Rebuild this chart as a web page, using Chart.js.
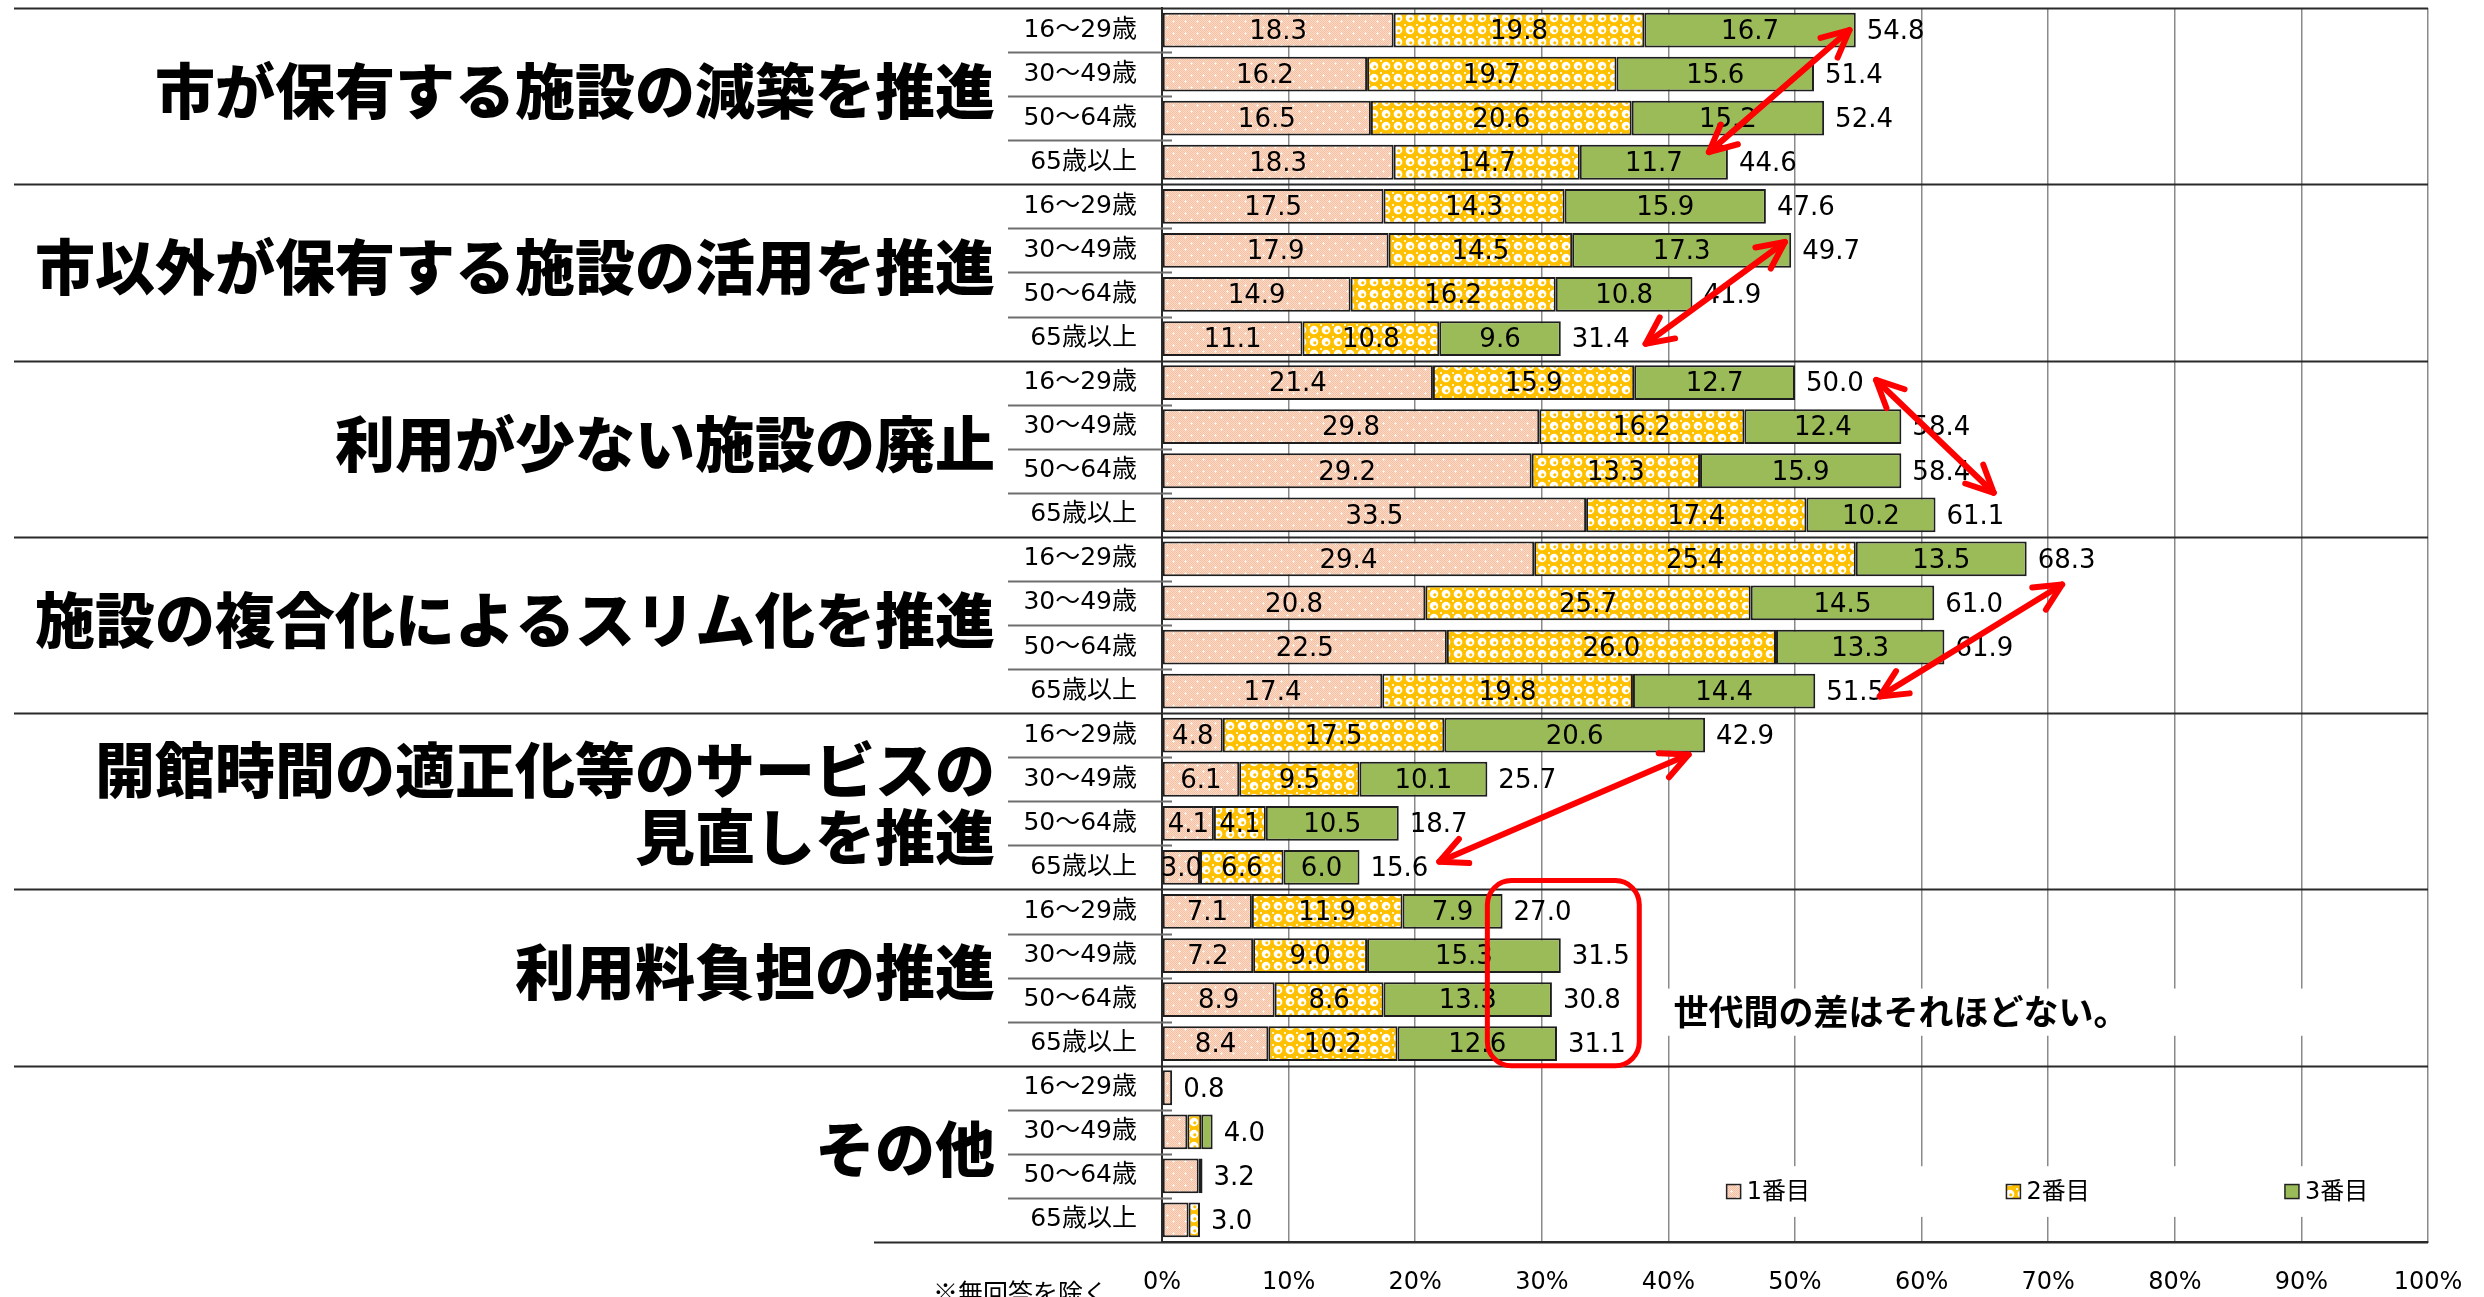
<!DOCTYPE html>
<html lang="ja">
<head>
<meta charset="utf-8">
<title>施設の見直し 年代別</title>
<script src="https://cdn.jsdelivr.net/npm/chart.js@4.4.1/dist/chart.umd.min.js"></script>
<style>
  html, body { margin: 0; padding: 0; background: #fff; }
  #wrap { width: 2484px; height: 1297px; position: relative; }
</style>
</head>
<body>
<div id="wrap"><canvas id="chart"></canvas></div>
<script>
const groupNames = [
  ["市が保有する施設の減築を推進"],
  ["市以外が保有する施設の活用を推進"],
  ["利用が少ない施設の廃止"],
  ["施設の複合化によるスリム化を推進"],
  ["開館時間の適正化等のサービスの", "見直しを推進"],
  ["利用料負担の推進"],
  ["その他"]
];
const ages = ["16～29歳", "30～49歳", "50～64歳", "65歳以上"];
const seriesNames = ["1番目", "2番目", "3番目"];

// 4 rows per group, in the order of ages
const first  = [18.3, 16.2, 16.5, 18.3,  17.5, 17.9, 14.9, 11.1,  21.4, 29.8, 29.2, 33.5,
                29.4, 20.8, 22.5, 17.4,   4.8,  6.1,  4.1,  3.0,   7.1,  7.2,  8.9,  8.4,
                 0.8,  2.0,  2.9,  2.1];
const second = [19.8, 19.7, 20.6, 14.7,  14.3, 14.5, 16.2, 10.8,  15.9, 16.2, 13.3, 17.4,
                25.4, 25.7, 26.0, 19.8,  17.5,  9.5,  4.1,  6.6,  11.9,  9.0,  8.6, 10.2,
                 0,    1.1,  0,    0.9];
const third  = [16.7, 15.6, 15.2, 11.7,  15.9, 17.3, 10.8,  9.6,  12.7, 12.4, 15.9, 10.2,
                13.5, 14.5, 13.3, 14.4,  20.6, 10.1, 10.5,  6.0,   7.9, 15.3, 13.3, 12.6,
                 0,    0.9,  0.3,  0];
const totals = [54.8, 51.4, 52.4, 44.6,  47.6, 49.7, 41.9, 31.4,  50.0, 58.4, 58.4, 61.1,
                68.3, 61.0, 61.9, 51.5,  42.9, 25.7, 18.7, 15.6,  27.0, 31.5, 30.8, 31.1,
                 0.8,  4.0,  3.2,  3.0];
const xTicks = [0, 10, 20, 30, 40, 50, 60, 70, 80, 90, 100];

// red arrows drawn over the bars: [x1 %, row1, x2 %, row2]
const arrowMarks = [
  [54.3, 0.0, 43.2, 2.77],
  [49.2, 4.81, 38.2, 7.12],
  [56.4, 7.94, 65.7, 10.5],
  [71.1, 12.58, 56.7, 15.12],
  [41.6, 16.44, 21.9, 18.87]
];
const noteText = "世代間の差はそれほどない。";

const labels = groupNames.flatMap(() => ages);
const FONT = '"DejaVu Sans", "Noto Sans CJK JP", sans-serif';

function makePattern(kind) {
  const c = document.createElement('canvas');
  c.width = 12; c.height = 12;
  const g = c.getContext('2d');
  if (kind === 0) {
    for (let y = 0; y < 12; y++) {
      for (let x = 0; x < 12; x++) {
        g.fillStyle = (x + y) % 2 ? '#fbdac8' : '#f6c1a3';
        g.fillRect(x, y, 1, 1);
      }
    }
    g.fillStyle = '#fff6f0';
    [[3, 3], [9, 9]].forEach(([px, py]) => {
      g.fillRect(px - 1, py, 3, 1);
      g.fillRect(px, py - 1, 1, 3);
    });
  } else {
    g.fillStyle = '#ffc000';
    g.fillRect(0, 0, 12, 12);
    g.fillStyle = '#ffffff';
    g.beginPath(); g.arc(6, 6, 4.3, 0, Math.PI * 2); g.fill();
    g.fillStyle = '#ffc000';
    g.beginPath(); g.arc(6.8, 6.8, 1.6, 0, Math.PI * 2); g.fill();
    g.fillStyle = '#fff3cc';
    g.fillRect(0, 0, 2, 2);
  }
  const ctx = document.createElement('canvas').getContext('2d');
  return ctx.createPattern(c, 'repeat');
}

const fills = [makePattern(0), makePattern(1), '#9bbb59'];

const framePlugin = {
  id: 'frame',
  beforeDatasetsDraw(chart) {
    const {ctx, chartArea} = chart;
    const y = chart.scales.y;
    ctx.save();
    for (let i = 0; i <= labels.length; i++) {
      const py = Math.round(y.getPixelForValue(i - 0.5)) + 0.5;
      ctx.beginPath();
      if (i % 4 === 0) {
        ctx.strokeStyle = '#2a2a2a';
        ctx.lineWidth = 2;
        ctx.moveTo(i === labels.length ? 874 : 14, py);
        ctx.lineTo(chartArea.right, py);
      } else {
        ctx.strokeStyle = '#6e6e6e';
        ctx.lineWidth = 2;
        ctx.moveTo(1008, py);
        ctx.lineTo(chartArea.left + 10, py);
      }
      ctx.stroke();
    }
    // group titles
    ctx.fillStyle = '#000';
    ctx.textAlign = 'right';
    ctx.textBaseline = 'middle';
    ctx.font = '900 60px "Noto Sans CJK JP", sans-serif';
    groupNames.forEach((lines, gi) => {
      const cy = (y.getPixelForValue(gi * 4) + y.getPixelForValue(gi * 4 + 3)) / 2;
      if (lines.length === 1) {
        ctx.fillText(lines[0], 995, cy - 5);
      } else {
        ctx.fillText(lines[0], 995, cy - 31);
        ctx.fillText(lines[1], 995, cy + 36);
      }
    });
    ctx.font = '25px "Noto Sans CJK JP", sans-serif';
    ctx.textAlign = 'left';
    ctx.textBaseline = 'top';
    ctx.fillText('※無回答を除く', 933, 1280);
    ctx.restore();
  },
  afterDatasetsDraw(chart) {
    const {ctx} = chart;
    const xs = chart.scales.x, ys = chart.scales.y;
    ctx.save();
    // value labels inside segments
    ctx.fillStyle = '#000';
    ctx.font = '26px ' + FONT;
    ctx.textAlign = 'center';
    ctx.textBaseline = 'middle';
    chart.data.datasets.forEach((ds, di) => {
      chart.getDatasetMeta(di).data.forEach((bar, i) => {
        if (i >= 24 || !ds.data[i]) return;
        ctx.fillText(ds.data[i].toFixed(1), (bar.x + bar.base) / 2, bar.y + 2);
      });
    });
    // totals
    ctx.textAlign = 'left';
    chart.getDatasetMeta(2).data.forEach((bar, i) => {
      ctx.fillText(totals[i].toFixed(1), bar.x + 11, bar.y + 2);
    });

    // note box
    const nx0 = xs.getPixelForValue(39.3), nx1 = xs.getPixelForValue(99.5);
    const ny0 = ys.getPixelForValue(21.75), ny1 = ys.getPixelForValue(22.82);
    ctx.fillStyle = '#fff';
    ctx.fillRect(nx0, ny0, nx1 - nx0, ny1 - ny0);
    ctx.fillStyle = '#000';
    ctx.font = 'bold 35px "Noto Sans CJK JP", sans-serif';
    ctx.textBaseline = 'middle';
    ctx.fillText(noteText, xs.getPixelForValue(40.4), (ny0 + ny1) / 2);

    // legend box inside the plot
    const lx0 = xs.getPixelForValue(42.5), lx1 = xs.getPixelForValue(99.5);
    const ly0 = ys.getPixelForValue(25.78), ly1 = ys.getPixelForValue(26.93);
    ctx.fillStyle = '#fff';
    ctx.fillRect(lx0, ly0, lx1 - lx0, ly1 - ly0);
    const ly = (ly0 + ly1) / 2;
    [44.6, 66.7, 88.7].forEach((v, k) => {
      const mx = xs.getPixelForValue(v);
      ctx.fillStyle = fills[k];
      ctx.fillRect(mx, ly - 7, 14, 14);
      ctx.strokeStyle = '#222';
      ctx.lineWidth = 1.5;
      ctx.strokeRect(mx, ly - 7, 14, 14);
      ctx.fillStyle = '#000';
      ctx.font = '24px ' + FONT;
      ctx.textAlign = 'left';
      ctx.fillText(seriesNames[k], mx + 20, ly + 1);
    });

    // red arrows
    ctx.strokeStyle = '#ff0000';
    ctx.lineWidth = 6;
    ctx.lineCap = 'round';
    ctx.lineJoin = 'round';
    arrowMarks.forEach(([a, r1, b, r2]) => {
      const x1 = xs.getPixelForValue(a), y1 = ys.getPixelForValue(r1);
      const x2 = xs.getPixelForValue(b), y2 = ys.getPixelForValue(r2);
      ctx.beginPath();
      ctx.moveTo(x1, y1);
      ctx.lineTo(x2, y2);
      ctx.stroke();
      const ang = Math.atan2(y2 - y1, x2 - x1);
      [[x1, y1, ang], [x2, y2, ang + Math.PI]].forEach(([hx, hy, t]) => {
        ctx.beginPath();
        ctx.moveTo(hx + 30 * Math.cos(t - 0.45), hy + 30 * Math.sin(t - 0.45));
        ctx.lineTo(hx, hy);
        ctx.lineTo(hx + 30 * Math.cos(t + 0.45), hy + 30 * Math.sin(t + 0.45));
        ctx.stroke();
      });
    });

    // red rounded box around 利用料負担 totals
    const rx0 = xs.getPixelForValue(25.7), rx1 = xs.getPixelForValue(37.7);
    const ry0 = ys.getPixelForValue(19.3), ry1 = ys.getPixelForValue(23.5);
    ctx.lineWidth = 5;
    ctx.beginPath();
    ctx.roundRect(rx0, ry0, rx1 - rx0, ry1 - ry0, 24);
    ctx.stroke();
    ctx.restore();
  }
};

new Chart(document.getElementById('chart'), {
  type: 'bar',
  data: {
    labels: labels,
    datasets: [first, second, third].map((d, k) => ({
      label: seriesNames[k],
      data: d,
      backgroundColor: fills[k],
      borderColor: '#1e1e1e',
      borderWidth: 2,
      borderSkipped: false,
      barPercentage: 0.79,
      categoryPercentage: 1
    }))
  },
  options: {
    indexAxis: 'y',
    responsive: true,
    maintainAspectRatio: false,
    devicePixelRatio: 1,
    animation: false,
    layout: { padding: { top: 8, right: 56, bottom: 0, left: 0 } },
    plugins: { legend: { display: false }, tooltip: { enabled: false } },
    scales: {
      x: {
        stacked: true,
        min: 0,
        max: 100,
        afterFit: s => { s.height = 55; s.paddingLeft = 0; s.paddingRight = 0; },
        afterBuildTicks: s => { s.ticks = xTicks.map(v => ({ value: v })); },
        grid: { color: '#8a8a8a', lineWidth: 1.5, drawTicks: false },
        border: { display: true, color: '#2a2a2a', width: 2 },
        ticks: {
          padding: 26,
          color: '#000',
          font: { family: FONT, size: 24 },
          callback: v => v + '%'
        }
      },
      y: {
        stacked: true,
        afterFit: s => { s.width = 1162; s.paddingTop = 0; s.paddingBottom = 0; },
        grid: { display: false },
        border: { display: true, color: '#2a2a2a', width: 2 },
        ticks: {
          autoSkip: false,
          padding: 17,
          color: '#000',
          font: { family: FONT, size: 25 }
        }
      }
    }
  },
  plugins: [framePlugin]
});
</script>
</body>
</html>
